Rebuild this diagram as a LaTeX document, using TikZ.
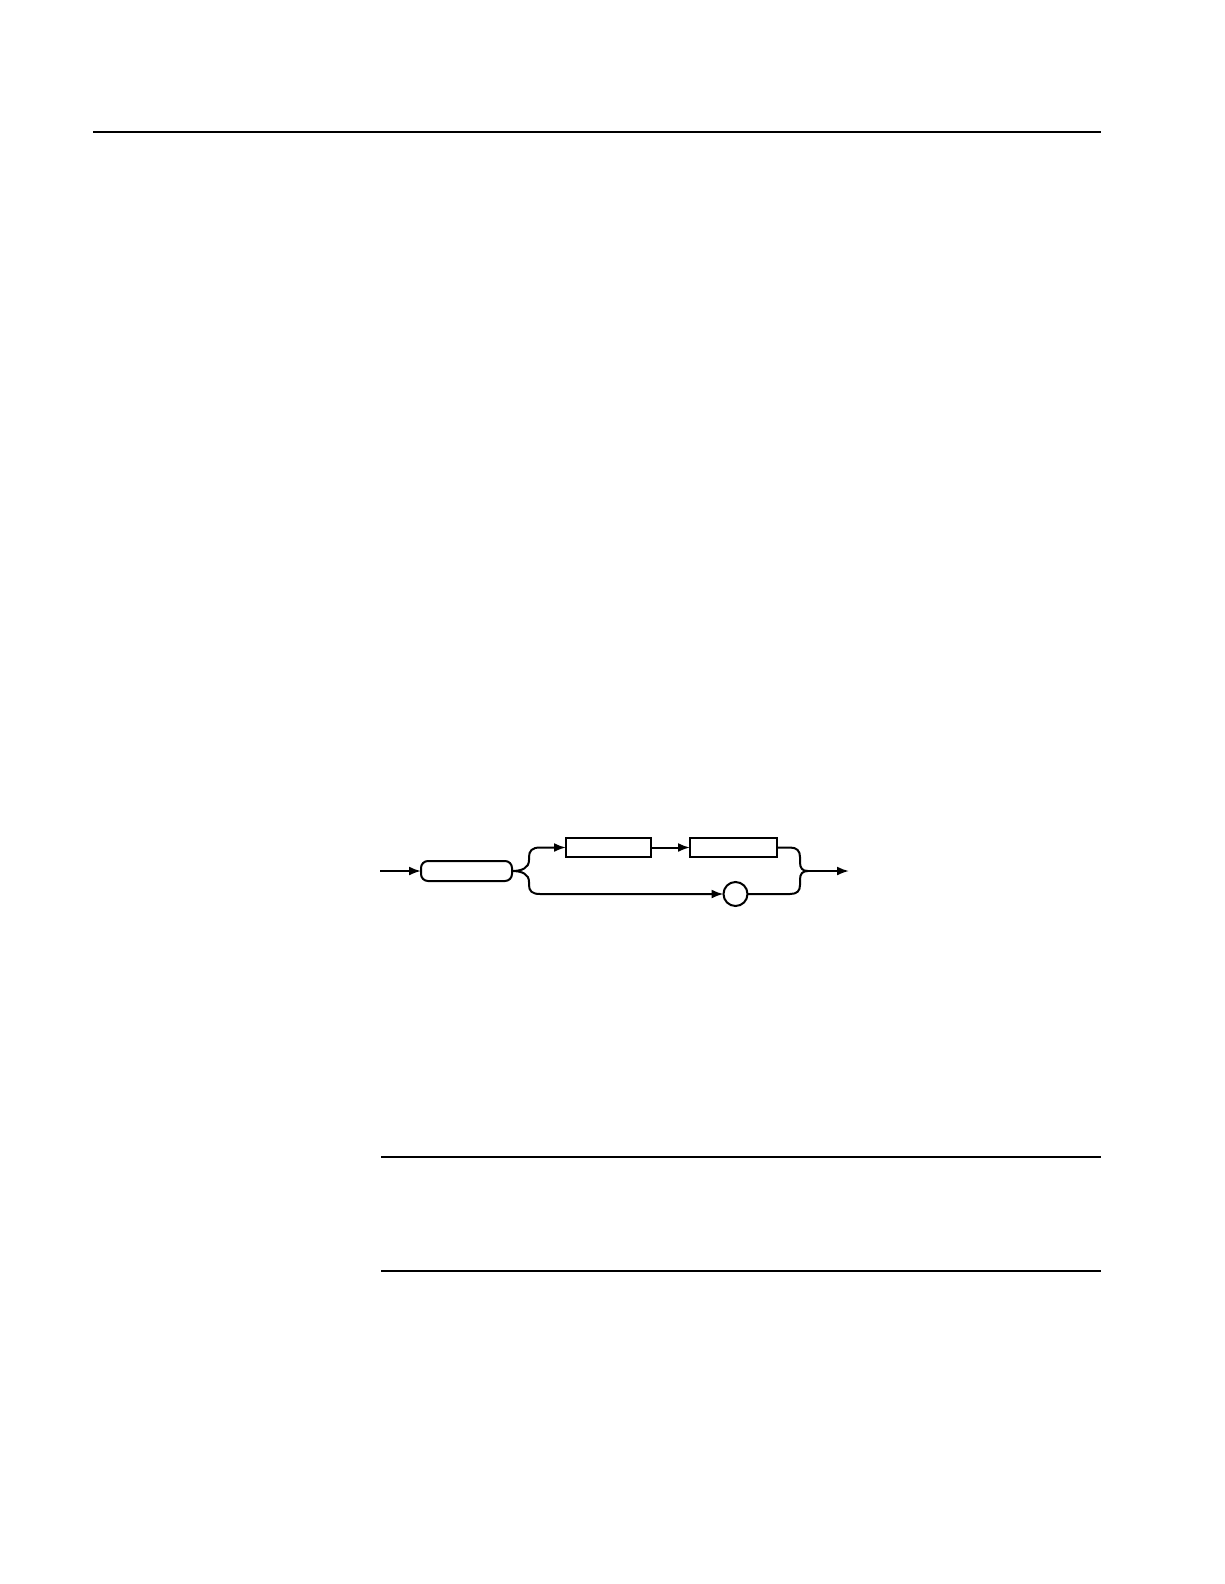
\documentclass[tikz,border=0pt]{standalone}
\usetikzlibrary{arrows.meta}
\begin{document}
\begin{tikzpicture}[x=1pt,y=-1pt,
  rule/.style={line width=1.4pt},
  conn/.style={line width=2pt},
  flow/.style={conn,-{Latex[length=12pt,width=9pt]}},
  sbox/.style={draw,line width=2pt,rectangle,inner sep=0pt,outer sep=0pt},
  rbox/.style={sbox,rounded corners=7pt},
  cbox/.style={draw,line width=2pt,circle,inner sep=0pt,outer sep=0pt,minimum size=24pt}]
\useasboundingbox (0,0) rectangle (1224,1584);
% rules
\coordinate (r1a) at (93,132); \coordinate (r1b) at (1101,132);
\coordinate (r2a) at (381,1157); \coordinate (r2b) at (1101,1157);
\coordinate (r3a) at (381,1271); \coordinate (r3b) at (1101,1271);
\draw[rule] (r1a) -- (r1b);
\draw[rule] (r2a) -- (r2b);
\draw[rule] (r3a) -- (r3b);
% nodes
\coordinate (start) at (380,871);
\node[rbox,minimum width=91pt,minimum height=20pt] (head) at (466.5,871) {};
\node[sbox,minimum width=85pt,minimum height=19pt] (b1) at (608.5,847.5) {};
\node[sbox,minimum width=87pt,minimum height=19pt] (b2) at (733.5,847.5) {};
\node[cbox] (circ) at (735.5,894) {};
\coordinate (stop) at (849,871);
% connectors
\draw[flow] (start) -- (head.west);
\draw[flow] (head.east) .. controls (522,871) and (529,868) .. (529,860) -- (529,857)
   .. controls (529,851) and (532,847.5) .. (540,847.5) -- (b1.west);
\draw[flow] (head.east) .. controls (522,871) and (529,874) .. (529,882) -- (529,885)
   .. controls (529,891) and (532,894) .. (540,894) -- (circ.west);
\draw[flow] (b1.east) -- (b2.west);
\draw[conn] (b2.east) -- (790,847.5) .. controls (797,847.5) and (800,851) .. (800,857) -- (800,862)
   .. controls (800,868) and (802,871) .. (808,871);
\draw[conn] (circ.east) -- (790,894) .. controls (797,894) and (800,891) .. (800,885) -- (800,880)
   .. controls (800,874) and (802,871) .. (808,871);
\draw[flow] (808,871) -- (stop);
\end{tikzpicture}
\end{document}
